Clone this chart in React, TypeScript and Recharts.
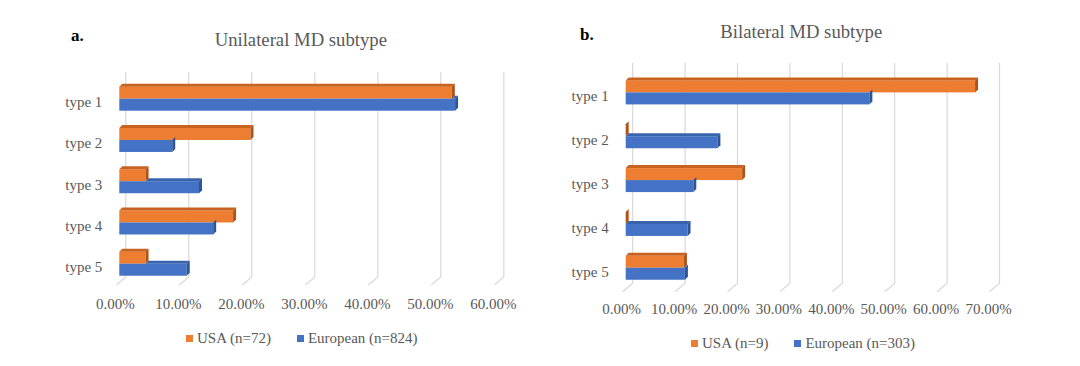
import React from 'react';
import { BarChart, Bar, XAxis, YAxis, CartesianGrid, Legend } from 'recharts';

const categories = ['type 1', 'type 2', 'type 3', 'type 4', 'type 5'];
const uniUSA = [0.5278, 0.2083, 0.0417, 0.1806, 0.0417];
const uniEU = [0.533, 0.084, 0.1265, 0.149, 0.107];
const biUSA = [0.6667, 0, 0.2222, 0, 0.1111];
const biEU = [0.465, 0.175, 0.129, 0.118, 0.113];
const uniTicks = [0, 0.1, 0.2, 0.3, 0.4, 0.5, 0.6];
const biTicks = [0, 0.1, 0.2, 0.3, 0.4, 0.5, 0.6, 0.7];
const uniNames = ['USA (n=72)', 'European (n=824)'];
const biNames = ['USA (n=9)', 'European (n=303)'];

const FONT = "'Liberation Serif', 'Times New Roman', serif";
const TXT = '#595959';
const ORANGE = { front: '#ED7D31', top: '#C9621F', side: '#AE5419' };
const BLUE = { front: '#4472C4', top: '#3A63AE', side: '#2F5597' };

const uniData = categories.map((c, i) => ({ cat: c, usa: uniUSA[i], eu: uniEU[i] }));
const biData = categories.map((c, i) => ({ cat: c, usa: biUSA[i], eu: biEU[i] }));

const D = 3;

const makeShape = (col: any, hideTopUnder: boolean) => (props: any) => {
  const { x, y, width, height, payload } = props;
  const w = Math.max(width || 0, 0);
  let topStart = x;
  if (hideTopUnder && payload) {
    const o = payload.usa;
    const s = payload.eu;
    if (s > 0) topStart = x + Math.min(w, (w * o) / s);
  }
  return (
    <g>
      <rect x={x} y={y} width={w} height={height} fill={col.front} />
      {topStart < x + w && (
        <polygon
          points={`${topStart},${y} ${topStart + D},${y - D} ${x + w + D},${y - D} ${x + w},${y}`}
          fill={col.top}
        />
      )}
      <polygon
        points={`${x + w},${y} ${x + w + D},${y - D} ${x + w + D},${y + height - D} ${x + w},${y + height}`}
        fill={col.side}
      />
    </g>
  );
};

const makeGrid = (back: number, lift: number, front: number, drop: number, topExtra: number) => (props: any) => {
  const { x1, y1, y2, key } = props;
  const pts = `${x1 + back},${y1 - topExtra} ${x1 + back},${y2 - lift} ${x1 + front},${y2 - lift + drop}`;
  return <polyline key={key} points={pts} fill="none" stroke="#D9D9D9" strokeWidth={1.2} />;
};

const pct = (v: number) => `${(v * 100).toFixed(2)}%`;

const legendContent = (names: string[]) => () => (
  <div style={{ display: 'flex', alignItems: 'center', fontFamily: FONT, fontSize: 15, color: TXT, lineHeight: '15px', whiteSpace: 'nowrap' }}>
    {names.map((n, i) => (
      <div key={n} style={{ display: 'flex', alignItems: 'center', marginRight: i === 0 ? 26 : 0 }}>
        <div style={{ width: 7, height: 7, background: i === 0 ? ORANGE.front : BLUE.front, marginRight: 4 }} />
        <span>{n}</span>
      </div>
    ))}
  </div>
);

function Panel(props: any) {
  const { data, ticks, names, domainMax, left, marginTop, marginBottom, marginLeft, marginRight, grid, tickDy, legendLeft, legendTop } = props;
  return (
    <div style={{ position: 'absolute', left, top: 0 }}>
      <BarChart
        width={540}
        height={366}
        data={data}
        layout="vertical"
        barSize={12}
        barGap={0}
        margin={{ top: marginTop, bottom: marginBottom, left: marginLeft, right: marginRight }}
      >
        <CartesianGrid horizontal={false} vertical={grid} />
        <XAxis
          type="number"
          domain={[0, domainMax]}
          ticks={ticks}
          tickFormatter={pct}
          axisLine={false}
          tickLine={false}
          tickSize={0}
          tickMargin={tickDy}
          height={40}
          interval={0}
          tick={{ fontSize: 15, fill: TXT, fontFamily: FONT, dx: -4 }}
        />
        <YAxis
          type="category"
          dataKey="cat"
          axisLine={false}
          tickLine={false}
          tickSize={0}
          tickMargin={17}
          width={80}
          tick={{ fontSize: 15, fill: TXT, fontFamily: FONT, dy: 3.5 }}
        />
        <Legend
          layout="horizontal"
          verticalAlign="middle"
          align="center"
          wrapperStyle={{ left: legendLeft, top: legendTop, width: 'auto' }}
          content={legendContent(names)}
        />
        <Bar dataKey="usa" name={names[0]} fill={ORANGE.front} shape={makeShape(ORANGE, false)} isAnimationActive={false} />
        <Bar dataKey="eu" name={names[1]} fill={BLUE.front} shape={makeShape(BLUE, true)} isAnimationActive={false} />
      </BarChart>
    </div>
  );
}

export default function App() {
  return (
    <div style={{ position: 'absolute', left: 0, top: 0, width: 1080, height: 366, background: '#fff', overflow: 'hidden', fontFamily: FONT }}>
      <Panel
        data={uniData}
        ticks={uniTicks}
        names={uniNames}
        domainMax={0.6}
        left={0}
        marginTop={77.7}
        marginBottom={42}
        marginLeft={39.3}
        marginRight={42.7}
        grid={makeGrid(6.5, 7, -3, 8, 5.7)}
        tickDy={14}
        legendLeft={186}
        legendTop={331}
      />
      <Panel
        data={biData}
        ticks={biTicks}
        names={biNames}
        domainMax={0.7}
        left={540}
        marginTop={70.4}
        marginBottom={36.4}
        marginLeft={5.7}
        marginRight={87.5}
        grid={makeGrid(7, 6.3, -3, 8.5, 7.4)}
        tickDy={13.4}
        legendLeft={151}
        legendTop={336}
      />
      <div style={{ position: 'absolute', left: 71, top: 27, fontSize: 17, fontWeight: 'bold', color: '#000', lineHeight: '17px' }}>a.</div>
      <div style={{ position: 'absolute', left: 580, top: 26, fontSize: 17, fontWeight: 'bold', color: '#000', lineHeight: '17px' }}>b.</div>
      <div style={{ position: 'absolute', left: 300.8, top: 29.5, transform: 'translateX(-50%)', fontSize: 18.7, color: TXT, lineHeight: '19px', whiteSpace: 'nowrap' }}>Unilateral MD subtype</div>
      <div style={{ position: 'absolute', left: 801.3, top: 22, transform: 'translateX(-50%)', fontSize: 18.7, color: TXT, lineHeight: '19px', whiteSpace: 'nowrap' }}>Bilateral MD subtype</div>
    </div>
  );
}
